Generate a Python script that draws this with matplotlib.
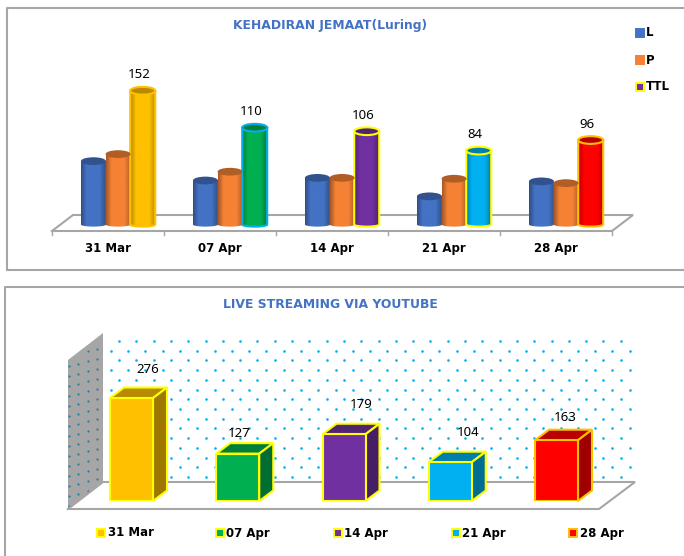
"""Two attendance charts: 3D-looking cylinders on top, 3D-looking boxes below."""

import matplotlib

matplotlib.use("Agg")
import matplotlib.pyplot as plt
import numpy as np
from matplotlib.colors import LinearSegmentedColormap, to_rgb
from matplotlib.patches import Ellipse, Polygon

W, H = 684, 556

DATES = ["31 Mar", "07 Apr", "14 Apr", "21 Apr", "28 Apr"]
LAKI = [72, 50, 53, 32, 49]
PEREMPUAN = [80, 60, 53, 52, 47]
TOTAL = [152, 110, 106, 84, 96]
STREAMING = [276, 127, 179, 104, 163]

DATE_COLORS = ["#FFC000", "#00B050", "#7030A0", "#00B0F0", "#FF0000"]
TTL_EDGES = ["#FFC000", "#00B0F0", "#FFFF00", "#FFFF00", "#FFC000"]
BOX_EDGES = ["#FFFF00", "#FFFF00", "#FFFF00", "#FFFF00", "#FFC000"]
BLUE = "#4472C4"
ORANGE = "#F58135"
GREY = "#A6A6A6"
TITLE_COLOR = "#4472C4"

LABEL_FONT = "Noto Sans"


def darker(color, k):
    return tuple(c * k for c in to_rgb(color))


def px_axes(fig, left, right, y0, y_top, xlim, ylim):
    """Axes placed by pixel box, y measured from the top of the image."""
    ax = fig.add_axes([left / W, 1 - y0 / H, (right - left) / W, (y0 - y_top) / H])
    ax.set_xlim(*xlim)
    ax.set_ylim(*ylim)
    ax.patch.set_alpha(0)
    for s in ax.spines.values():
        s.set_visible(False)
    return ax


def cylinder(ax, x, width, value, color, edge=None):
    w = width / 2
    cap = 4.4  # cap half height, in value units
    low = 2.4
    t = np.linspace(np.pi, 2 * np.pi, 30)
    pts = [(x - w, value)] + list(zip(x + w * np.cos(t), low * np.sin(t))) + [(x + w, value)]
    body = Polygon(pts, closed=True, fc="none", ec=edge or "none", lw=1.5, zorder=3)
    ax.add_patch(body)
    cmap = LinearSegmentedColormap.from_list(
        "c",
        [(0, darker(color, 0.68)), (0.22, darker(color, 1.0)), (0.75, darker(color, 1.0)), (1, darker(color, 0.72))],
    )
    im = ax.imshow(
        np.linspace(0, 1, 64)[None, :], extent=[x - w, x + w, -low, value], cmap=cmap,
        aspect="auto", zorder=2.5,
    )
    im.set_clip_path(body)
    ax.add_patch(Ellipse((x, value), width, cap * 2, fc=darker(color, 0.72), ec=edge or "none", lw=1.5, zorder=3.2))


def draw_frames(bg):
    bg.plot([7, 7, 684], [270, 8, 8], color=GREY, lw=1.5)
    bg.plot([7, 684], [270, 270], color=GREY, lw=1.5)
    bg.plot([5, 5, 684], [556, 287, 287], color=GREY, lw=1.5)


def draw_top_floor(bg):
    bg.plot([52, 73, 633, 612, 52], [231, 215, 215, 231, 231], color=GREY, lw=1.5, solid_joinstyle="miter")
    for i in range(6):
        px = 52 + 112 * i
        bg.plot([px, px], [231, 235], color=GREY, lw=1)


def draw_top(fig, bg):
    draw_top_floor(bg)
    ax = px_axes(fig, 52, 612, 224.5 + 0.88 * 6, 224.5 - 0.88 * 170, (0, 5), (-6, 170))
    width = 25 / 112
    for i in range(len(DATES)):
        cylinder(ax, i + 0.5 - 0.13, width, LAKI[i], BLUE)
        cylinder(ax, i + 0.5 + 0.09, width, PEREMPUAN[i], ORANGE)
        cylinder(ax, i + 0.5 + 0.31, width, TOTAL[i], DATE_COLORS[i], edge=TTL_EDGES[i])
        ax.annotate(
            str(TOTAL[i]), (i + 0.5 + 0.31, TOTAL[i]), xytext=(-4, 16), textcoords="offset pixels",
            ha="center", va="center", fontsize=9.5, family=LABEL_FONT, color="black", annotation_clip=False,
        )
    ax.set_yticks([])
    ax.set_xticks(np.arange(len(DATES)) + 0.5)
    ax.set_xticklabels(DATES, fontsize=8.5, fontweight="bold")
    ax.tick_params(axis="x", length=0, pad=8.5)

    bg.text(330, 26, "KEHADIRAN JEMAAT(Luring)", color=TITLE_COLOR, fontsize=8.9, fontweight="bold",
            ha="center", va="center")
    legend = [("L", BLUE, BLUE, 33), ("P", ORANGE, ORANGE, 60), ("TTL", "#7030A0", "#FFFF00", 87)]
    for name, fc, ec, y in legend:
        bg.plot([640], [y], marker="s", ms=5.2, mfc=fc, mec=ec, mew=1.4, ls="none")
        bg.text(646, y, name, fontsize=8.5, fontweight="bold", va="center", ha="left")


def draw_wall(bg):
    bg.add_patch(Polygon([(68, 360), (103, 333), (103, 482), (68, 509)], fc=GREY, ec="none"))
    bg.add_patch(Polygon([(68, 509), (103, 482), (635, 482), (599, 509)], fc="white", ec="none", zorder=2))
    bg.plot([68, 103, 635, 599, 68], [509, 482, 482, 509, 509], color=GREY, lw=1.5, zorder=2.1,
            solid_joinstyle="miter")

    # dotted pattern on the back wall
    xs, ys = [], []
    for r in range(15):
        y = 341 + 9.72 * r
        start = 119 if r % 2 == 0 else 110.7
        for x in np.arange(start, 630, 17.3):
            xs.append(x)
            ys.append(y)
    bg.scatter(xs, ys, s=3.5, color="#00B0F0", lw=0, zorder=1.5)

    # same pattern, sheared, on the side wall
    xs, ys = [], []
    for c, x in enumerate([69, 78, 88, 97]):
        y_start = 366 - (x - 69) * 0.77 + (5 if c % 2 else 0)
        for k in range(15):
            xs.append(x)
            ys.append(y_start + 10 * k)
    bg.scatter(xs, ys, s=2.5, color="#1F7FA8", lw=0, zorder=1.5)


def draw_bottom(fig, bg):
    draw_wall(bg)
    slot = 106.25
    ax = px_axes(fig, 131.5 - slot / 2, 131.5 + 4.5 * slot, 501, 501 - 0.373 * 300, (-0.5, 4.5), (0, 300))
    ax.set_xticks([])
    ax.set_yticks([])
    width = 43 / slot
    dx = 14 / slot
    dy = 10.5 / 0.373
    x = np.arange(len(DATES))
    ax.bar(x, STREAMING, width=width, color=DATE_COLORS, edgecolor=BOX_EDGES, linewidth=1.5, zorder=3)
    for i, v in enumerate(STREAMING):
        l, r = i - width / 2, i + width / 2
        ax.add_patch(Polygon([(l, v), (l + dx, v + dy), (r + dx, v + dy), (r, v)], fc=darker(DATE_COLORS[i], 0.72),
                             ec=BOX_EDGES[i], lw=1.5, zorder=2.8, clip_on=False))
        ax.add_patch(Polygon([(r, 0), (r + dx, dy), (r + dx, v + dy), (r, v)], fc=darker(DATE_COLORS[i], 0.62),
                             ec=BOX_EDGES[i], lw=1.5, zorder=2.8, clip_on=False))
    offsets = [(16, 29), (1, 20), (17, 30), (18, 30), (9, 23)]
    for i, v in enumerate(STREAMING):
        ax.annotate(str(v), (i, v), xytext=offsets[i], textcoords="offset pixels", ha="center", va="center",
                    fontsize=9.5, family=LABEL_FONT, annotation_clip=False, zorder=5)

    bg.text(330, 304, "LIVE STREAMING VIA YOUTUBE", color=TITLE_COLOR, fontsize=8.9, fontweight="bold",
            ha="center", va="center")
    sq_x = [101, 220, 338, 456, 573]
    for i, name in enumerate(DATES):
        bg.plot([sq_x[i]], [533], marker="s", ms=5.2, mfc=DATE_COLORS[i], mec=BOX_EDGES[i],
                mew=1.4, ls="none")
        bg.text(sq_x[i] + 6.5, 533, name, fontsize=8.5, fontweight="bold", va="center", ha="left")


def main():
    fig = plt.figure(figsize=(W / 100, H / 100), dpi=100, facecolor="white")
    bg = fig.add_axes([0, 0, 1, 1])
    bg.set_xlim(0, W)
    bg.set_ylim(H, 0)
    bg.axis("off")
    draw_frames(bg)
    draw_top(fig, bg)
    draw_bottom(fig, bg)
    fig.savefig("out.png", dpi=100)
    plt.close(fig)


if __name__ == "__main__":
    main()
